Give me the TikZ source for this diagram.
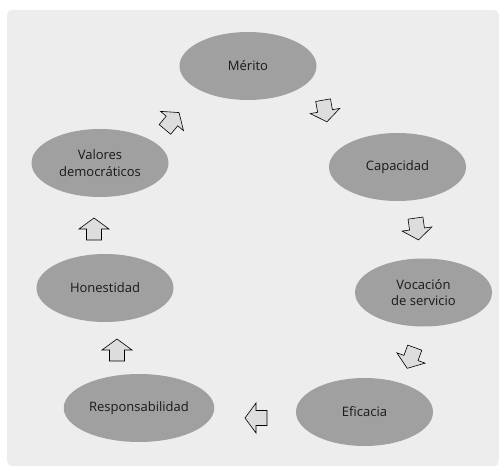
\documentclass[tikz,border=0pt]{standalone}
\usepackage{fontspec}
\setmainfont{Open Sans}
\usepackage{xcolor}
\usepackage{tikz}
\usetikzlibrary{shapes.geometric, positioning, calc}
\definecolor{panelgray}{HTML}{EDEDED}
\definecolor{ovalgray}{HTML}{A0A0A0}
\definecolor{arrowgray}{HTML}{DDDDDD}

\begin{document}
\begin{tikzpicture}[x=1pt, y=-1pt,
  valor/.style={ellipse, fill=ovalgray, minimum width=137pt, minimum height=68pt,
                align=center, font=\fontsize{13}{16.5}\selectfont, text=black!90},
  flecha/.pic={\draw[black, fill=arrowgray, line width=0.6pt, line join=miter]
                 (-11,-7.5) -- (0,-7.5) -- (0,-15) -- (11,0) -- (0,15)
                 -- (0,7.5) -- (-11,7.5) -- cycle;},
]
  \useasboundingbox (0,0) rectangle (499,468);
  \fill[panelgray, rounded corners=5pt] (7,10) rectangle (499,466);

  \node[valor] (merito)    at (248,66)      {Mérito};
  \node[valor] (capacidad) at (397.5,167)   {Capacidad};
  \node[valor] (vocacion)  at (423.5,292.5) {Vocación\\de servicio};
  \node[valor] (eficacia)  at (364.5,412)   {Eficacia};
  \node[valor] (respons)   at (139,408)     {Responsabilidad};
  \node[valor] (honest)    at (105,288)     {Honestidad};
  \node[valor] (valores)   at (100,163)     {Valores\\democráticos};

  % flechas del ciclo
  \pic[rotate=-80]  (ar1) at (325,111) {flecha};
  \pic[rotate=-82]  (ar2) at (417,229) {flecha};
  \pic[rotate=-110] (ar3) at (411,358) {flecha};
  \pic[rotate=180]  (ar4) at (256,418) {flecha};
  \pic[rotate=90]   (ar5) at (117,350) {flecha};
  \pic[rotate=90]   (ar6) at (94,229)  {flecha};
  \pic[rotate=50]   (ar7) at (172,121) {flecha};
\end{tikzpicture}
\end{document}
